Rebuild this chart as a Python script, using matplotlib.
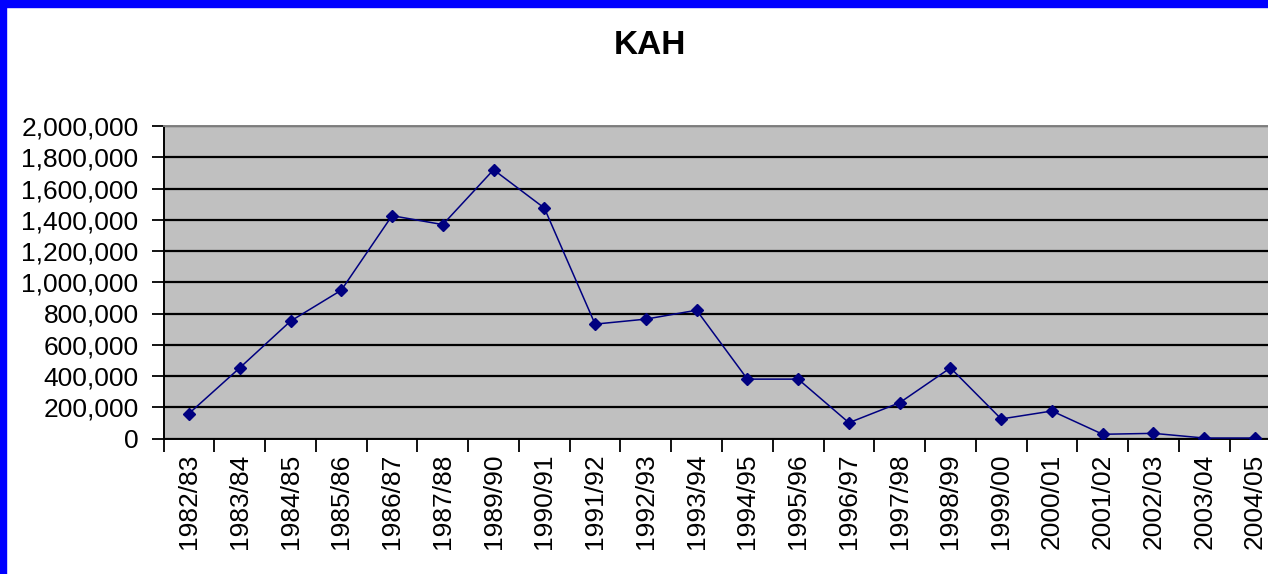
import numpy as np
import matplotlib
matplotlib.use("Agg")
import matplotlib.pyplot as plt
from matplotlib.patches import Rectangle
from matplotlib.ticker import StrMethodFormatter, FixedLocator

plt.rcParams['font.family'] = ['Liberation Sans', 'DejaVu Sans']

# --- data ---
seasons = ["1982/83", "1983/84", "1984/85", "1985/86", "1986/87", "1987/88",
           "1989/90", "1990/91", "1991/92", "1992/93", "1993/94", "1994/95",
           "1995/96", "1996/97", "1997/98", "1998/99", "1999/00", "2000/01",
           "2001/02", "2002/03", "2003/04", "2004/05"]
values = [160000, 452000, 751000, 949000, 1426000, 1369000,
          1720000, 1475000, 732000, 764000, 821000, 380000,
          380000, 101000, 229000, 452000, 125000, 176000,
          27000, 33000, 3000, 3000]
y_ticks = [0, 200000, 400000, 600000, 800000, 1000000, 1200000,
           1400000, 1600000, 1800000, 2000000]
title = "KAH"

W, H = 1268, 574
fig = plt.figure(figsize=(W / 100, H / 100), dpi=100)
fig.patch.set_facecolor('white')

# plot area runs past the right edge, as in the reference
ax = fig.add_axes([163.6 / W, 1 - 438.5 / H, (1280.4 - 163.6) / W, (438.5 - 126) / H])
ax.set_facecolor('#c0c0c0')

x = np.arange(len(seasons))
ax.plot(x, values, color='#000080', linewidth=1.1, marker='D',
        markersize=6.5, markerfacecolor='#000080', markeredgecolor='#000080',
        zorder=3)

ax.set_xlim(-0.5, len(seasons) - 0.5)
ax.set_ylim(0, 2000000)

ax.set_yticks(y_ticks)
ax.yaxis.set_major_formatter(StrMethodFormatter('{x:,.0f}'))
ax.yaxis.grid(True, color='black', linewidth=1.6)
ax.set_axisbelow(True)

ax.set_xticks(x)
ax.set_xticklabels(seasons, rotation=90)
ax.xaxis.set_minor_locator(FixedLocator(np.arange(len(seasons) + 1) - 0.5))
ax.tick_params(axis='x', which='major', length=0, pad=11, labelsize=19)
ax.tick_params(axis='x', which='minor', length=9, width=1.3, direction='out')
ax.tick_params(axis='y', length=9, width=1.3, pad=9, labelsize=19)

for side in ['left', 'bottom']:
    ax.spines[side].set_color('black')
    ax.spines[side].set_linewidth(1.4)
ax.spines['top'].set_color('#808080')
ax.spines['top'].set_linewidth(1.4)
ax.spines['right'].set_visible(False)

fig.text(650 / W, 1 - 45 / H, title, ha='center', va='center',
         fontsize=24, fontweight='bold')

# blue frame on top and left
fig.patches.append(Rectangle((0, 1 - 7 / H), 1, 7 / H, transform=fig.transFigure,
                             color='#0000ff', zorder=10))
fig.patches.append(Rectangle((0, 0), 6 / W, 1, transform=fig.transFigure,
                             color='#0000ff', zorder=10))

fig.savefig('out.png', dpi=100)
